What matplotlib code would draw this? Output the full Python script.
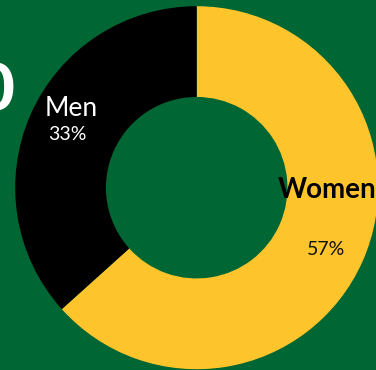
import matplotlib
matplotlib.use("Agg")
import matplotlib.pyplot as plt

# gender split
labels = ["Women", "Men"]
values = [57, 33]
colors = ["#FDC52B", "#000000"]
pct_colors = ["#111111", "#FFFFFF"]

bg = "#006633"

fig = plt.figure(figsize=(3.76, 3.70), dpi=100, facecolor=bg)
ax = fig.add_axes([0, 0, 1, 1])
ax.set_facecolor(bg)

total = sum(values)

def show_value(pct):
    return "{:d}%".format(int(round(pct * total / 100.0)))

wedges, texts, autotexts = ax.pie(
    values, colors=colors, startangle=90, counterclock=False,
    radius=1.0, autopct=show_value, pctdistance=0.78,
    wedgeprops=dict(width=0.5, linewidth=0),
    textprops=dict(fontfamily="Lato", fontsize=14),
)
for t, c in zip(autotexts, pct_colors):
    t.set_color(c)
    x, y = t.get_position()
    t.set_position((x, y - 0.022))

# category names
ax.text(-0.693, 0.439, "Men", color="white", fontsize=19, family="Lato",
        ha="center", va="center")
ax.text(0.718, -0.013, "Women", color="black", fontsize=20, family="Lato",
        fontweight="bold", ha="center", va="center")

# end of the big heading sitting to the left
ax.text(-1.0066, 0.527, "0", color="white", fontsize=47, family="Lato",
        fontweight="black", ha="right", va="center")

ax.set_aspect("auto")
ax.set_xlim(-1.0837, 0.9879)
ax.set_ylim(-1.0044, 1.0342)
ax.axis("off")

fig.savefig("out.png", dpi=100, facecolor=bg)
